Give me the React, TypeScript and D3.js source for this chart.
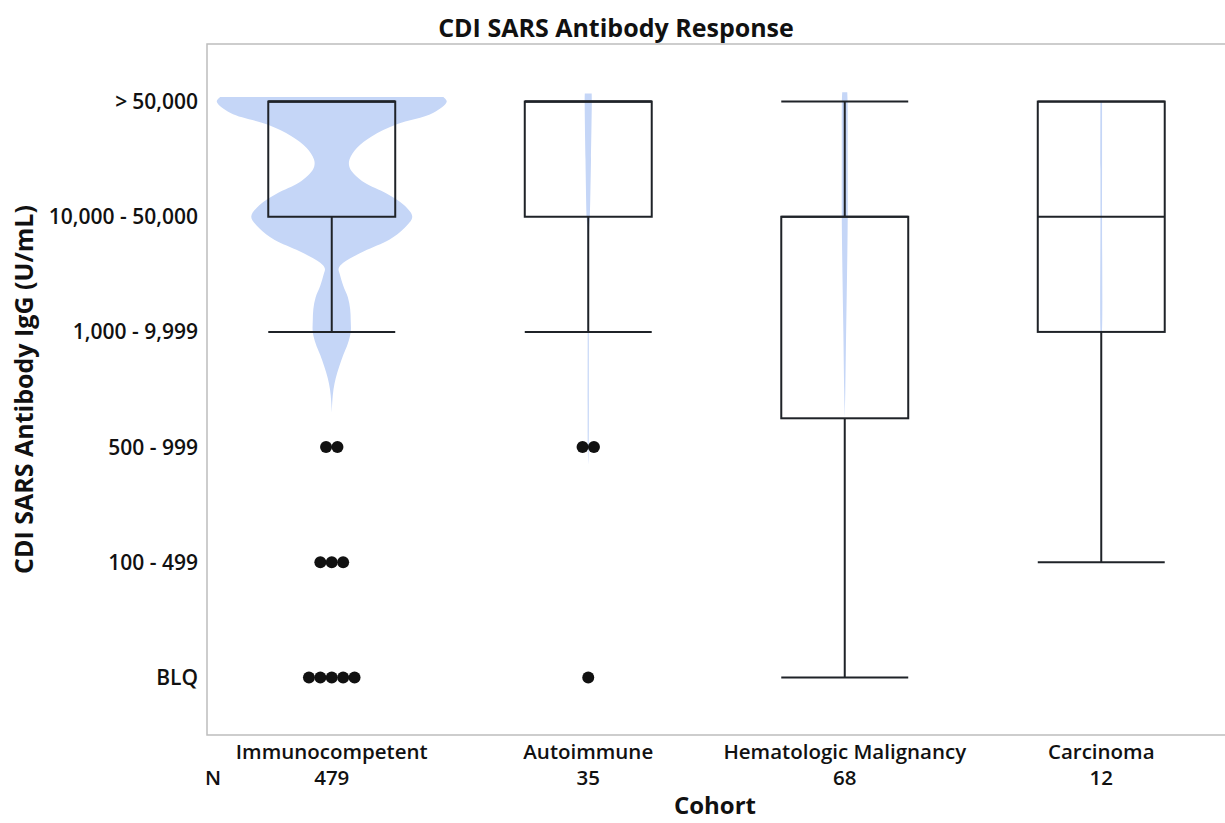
import { useEffect, useRef } from 'react';
import * as d3 from 'd3';

// --- data ---
const cohorts = ['Immunocompetent', 'Autoimmune', 'Hematologic Malignancy', 'Carcinoma'];
const cohortN = [479, 35, 68, 12];
const levelLabels = ['BLQ', '100 - 499', '500 - 999', '1,000 - 9,999', '10,000 - 50,000', '>50,000'];

// ordinal levels: 0 = BLQ ... 5 = >50,000
const boxQ1 = [4, 4, 2.25, 3];
const boxMedian = [5, 5, 4, 4];
const boxQ3 = [5, 5, 4, 5];
const whiskerLow = [3, 3, 0, 1];
const whiskerHigh = [5, 5, 5, 5];

// outliers: [level, count]
const immunoOutliers = [[2, 2], [1, 3], [0, 5]];
const autoimmuneOutliers = [[2, 2], [0, 1]];
const hemeOutliers: number[][] = [];
const carcinomaOutliers: number[][] = [];

// violin outlines: [level, relative density]
const immunoViolin = [
  [5.04, 0.97], [5, 1], [4.9, 0.88], [4.8, 0.56], [4.7, 0.35], [4.6, 0.22], [4.5, 0.155], [4.45, 0.15],
  [4.4, 0.17], [4.3, 0.28], [4.2, 0.48], [4.1, 0.63], [4, 0.7], [3.9, 0.63], [3.8, 0.5], [3.7, 0.28],
  [3.6, 0.1], [3.55, 0.06], [3.5, 0.07], [3.4, 0.1], [3.3, 0.14], [3.2, 0.16], [3.1, 0.165], [3, 0.165],
  [2.9, 0.14], [2.8, 0.1], [2.7, 0.065], [2.6, 0.035], [2.5, 0.015], [2.4, 0.005], [2.3, 0]
];
const autoimmuneViolin = [
  [5.07, 0.03], [5, 0.031], [4.5, 0.024], [4, 0.014], [3.9, 0.008], [3.5, 0.006], [3, 0.005], [2, 0.004], [1.85, 0]
];
const hemeViolin = [
  [5.08, 0.022], [5, 0.025], [4.5, 0.026], [4, 0.026], [3.5, 0.02], [3, 0.012], [2.5, 0.005], [2.25, 0]
];
const carcinomaViolin = [
  [5, 0.007], [4, 0.007], [3, 0.006], [2.95, 0]
];

const outliers = [immunoOutliers, autoimmuneOutliers, hemeOutliers, carcinomaOutliers];
const violins = [immunoViolin, autoimmuneViolin, hemeViolin, carcinomaViolin];

const FONT = '"Open Sans", "Noto Sans", sans-serif';
const INK = '#1f2328';

function App() {
  const svgRef = useRef<SVGSVGElement>(null);

  useEffect(() => {
    const width = 1225;
    const height = 823;
    const plot = { left: 207, top: 44, bottom: 735 };

    const svg = d3.select(svgRef.current);
    svg.selectAll('*').remove();
    svg.attr('width', width).attr('height', height);

    const x = d3.scaleBand().domain(cohorts).range([203.5, 203.5 + 256.5 * cohorts.length]);
    const y = d3.scaleLinear().domain([-0.5, 5.5]).range([plot.bottom, plot.top]);
    const halfWidth = d3.scaleLinear().domain([0, 1]).range([0, 115]);
    const boxW = x.bandwidth() * 0.495;

    // frame (right edge runs off the picture)
    svg.append('rect')
      .attr('x', plot.left).attr('y', plot.top)
      .attr('width', 1240 - plot.left).attr('height', plot.bottom - plot.top)
      .attr('fill', 'white').attr('stroke', '#bdbdbd').attr('stroke-width', 1.5);

    // title
    svg.append('text')
      .attr('x', 616).attr('y', 37)
      .attr('text-anchor', 'middle')
      .style('font-family', FONT).style('font-size', '25px').style('font-weight', 'bold')
      .style('fill', '#111')
      .text('CDI SARS Antibody Response');

    // y tick labels (the ">" sits a little apart from the number)
    svg.append('g').selectAll('text')
      .data(levelLabels)
      .join('text')
      .attr('x', 198)
      .attr('y', (d, i) => y(i))
      .attr('dy', '0.36em')
      .attr('text-anchor', 'end')
      .style('font-family', FONT).style('font-size', '21px').style('font-weight', 600)
      .style('fill', '#111')
      .each(function (d) {
        const t = d3.select(this);
        if (d.startsWith('>')) {
          t.append('tspan').text('>');
          t.append('tspan').attr('dx', 5).text(d.slice(1));
        } else {
          t.text(d);
        }
      });

    // y axis title
    svg.append('text')
      .attr('transform', `translate(33,${(plot.top + plot.bottom) / 2}) rotate(-90)`)
      .attr('text-anchor', 'middle')
      .style('font-family', FONT).style('font-size', '25px').style('font-weight', 'bold')
      .style('fill', '#111')
      .text('CDI SARS Antibody IgG (U/mL)');

    const groups = svg.append('g').selectAll('g')
      .data(cohorts)
      .join('g')
      .attr('transform', d => `translate(${(x(d) as number) + x.bandwidth() / 2},0)`);

    // violins
    const area = d3.area<number[]>()
      .y(d => y(d[0]))
      .x0(d => -halfWidth(d[1]))
      .x1(d => halfWidth(d[1]))
      .curve(d3.curveCatmullRom);

    groups.append('path')
      .attr('d', (d, i) => area(violins[i] as any))
      .attr('fill', '#c5d6f7')
      .attr('stroke', 'none');

    // whiskers: box edge to extreme
    groups.selectAll('line.whisker')
      .data((d, i) => [[boxQ3[i], whiskerHigh[i]], [boxQ1[i], whiskerLow[i]]].filter(s => s[0] !== s[1]))
      .join('line')
      .attr('class', 'whisker')
      .attr('x1', 0).attr('x2', 0)
      .attr('y1', s => y(s[0])).attr('y2', s => y(s[1]))
      .attr('stroke', INK).attr('stroke-width', 2);

    groups.selectAll('line.cap')
      .data((d, i) => [whiskerLow[i], whiskerHigh[i]])
      .join('line')
      .attr('class', 'cap')
      .attr('x1', -boxW / 2).attr('x2', boxW / 2)
      .attr('y1', v => y(v)).attr('y2', v => y(v))
      .attr('stroke', INK).attr('stroke-width', 2);

    // boxes
    groups.append('rect')
      .attr('x', -boxW / 2)
      .attr('width', boxW)
      .attr('y', (d, i) => y(boxQ3[i]))
      .attr('height', (d, i) => y(boxQ1[i]) - y(boxQ3[i]))
      .attr('fill', 'none')
      .attr('stroke', INK).attr('stroke-width', 2);

    groups.append('line')
      .attr('x1', -boxW / 2).attr('x2', boxW / 2)
      .attr('y1', (d, i) => y(boxMedian[i])).attr('y2', (d, i) => y(boxMedian[i]))
      .attr('stroke', INK).attr('stroke-width', 2);

    // outlier dots, stacked side by side
    groups.selectAll('circle')
      .data((d, i) => outliers[i].flatMap(([lvl, n]) =>
        d3.range(n).map(k => ({ lvl, off: (k - (n - 1) / 2) * 11.4 }))))
      .join('circle')
      .attr('cx', p => p.off)
      .attr('cy', p => y(p.lvl))
      .attr('r', 6)
      .attr('fill', '#111');

    // x labels and N
    groups.append('text')
      .attr('y', 759)
      .attr('text-anchor', 'middle')
      .style('font-family', FONT).style('font-size', '20.5px').style('font-weight', 600)
      .style('fill', '#111')
      .text(d => d);

    groups.append('text')
      .attr('y', 785)
      .attr('text-anchor', 'middle')
      .style('font-family', FONT).style('font-size', '20.5px').style('font-weight', 600)
      .style('fill', '#111')
      .text((d, i) => cohortN[i]);

    svg.append('text')
      .attr('x', 205).attr('y', 785)
      .style('font-family', FONT).style('font-size', '20.5px').style('font-weight', 600)
      .style('fill', '#111')
      .text('N');

    svg.append('text')
      .attr('x', 715).attr('y', 814)
      .attr('text-anchor', 'middle')
      .style('font-family', FONT).style('font-size', '24px').style('font-weight', 'bold')
      .style('fill', '#111')
      .text('Cohort');
  }, []);

  return (
    <svg ref={svgRef} style={{ position: 'absolute', left: 0, top: 0, display: 'block', background: 'white' }}></svg>
  );
}

export default App;
